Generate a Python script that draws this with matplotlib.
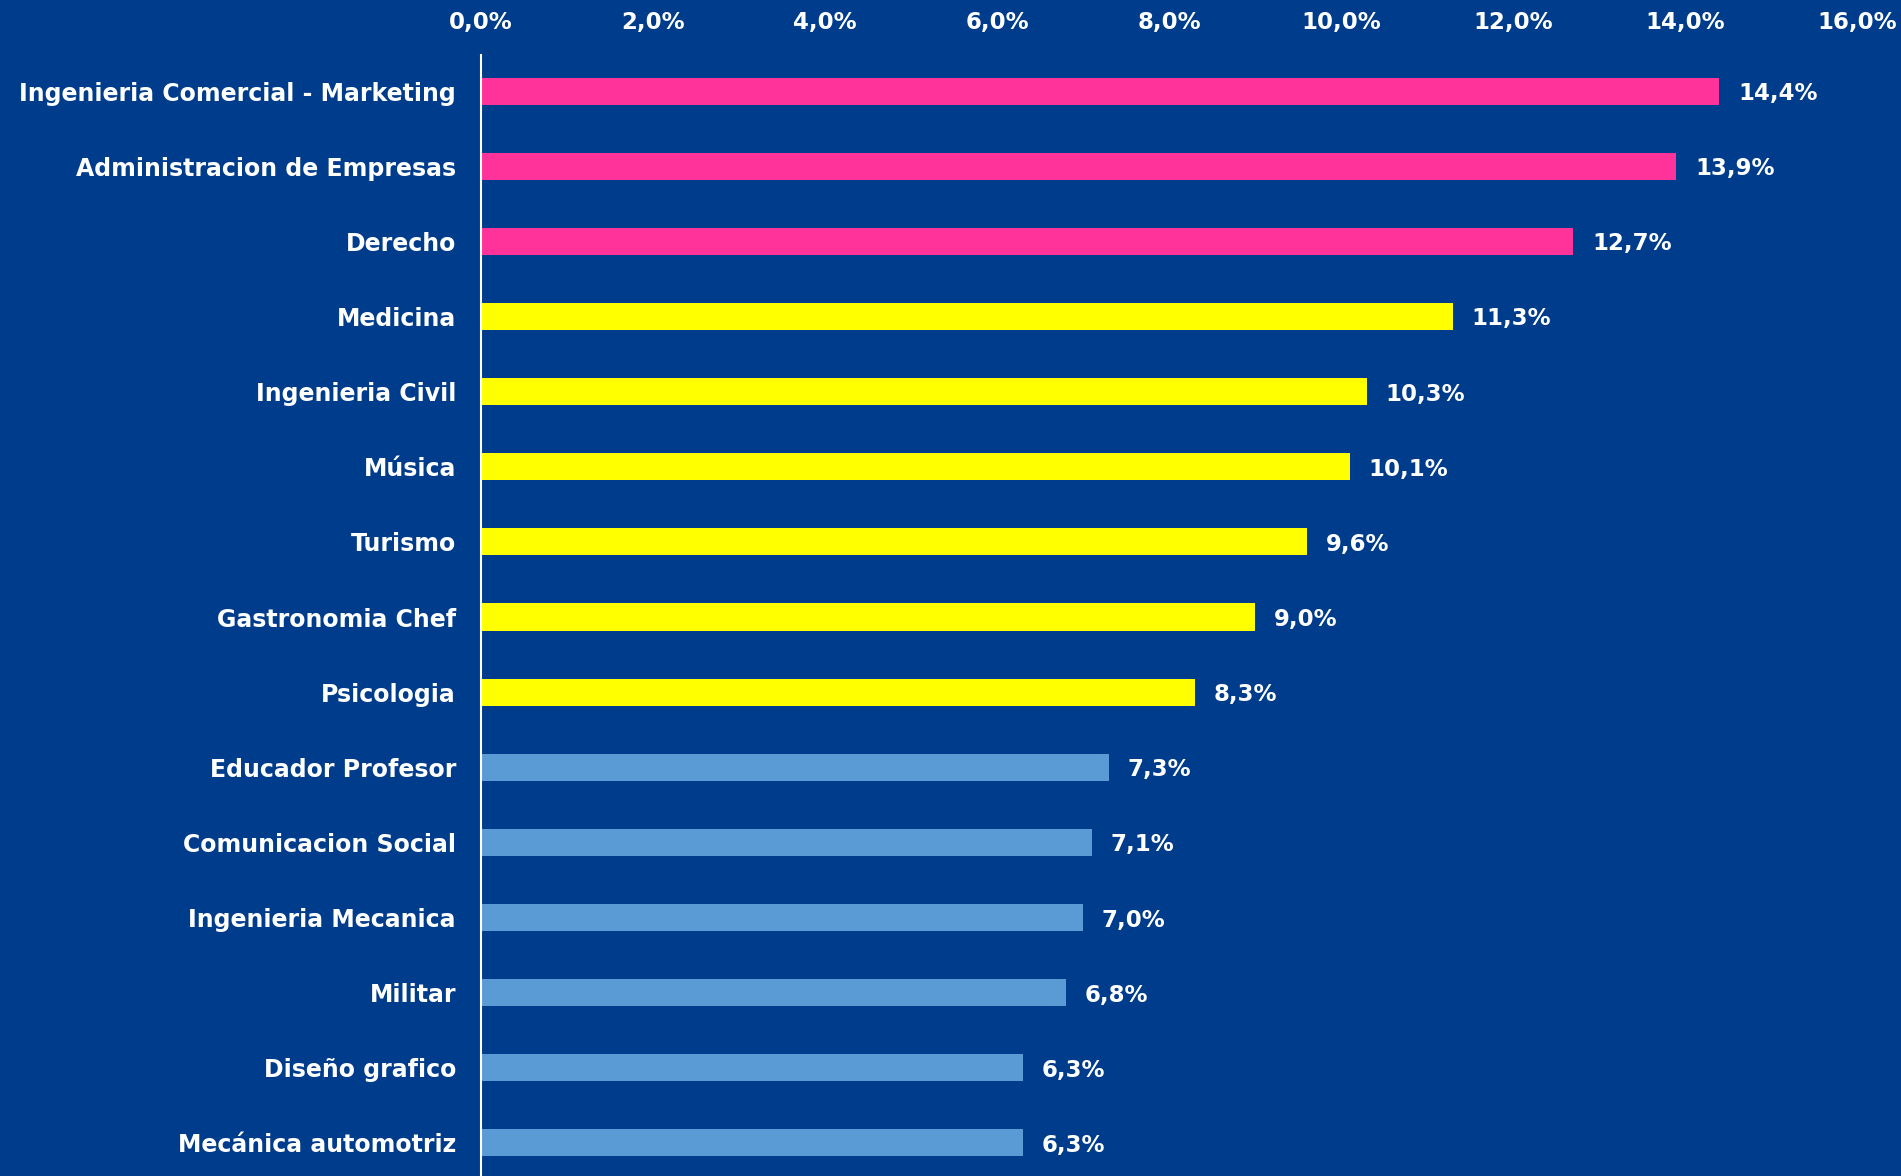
import matplotlib.pyplot as plt
from matplotlib.ticker import FuncFormatter

# careers and share of responses
carreras = ['Ingenieria Comercial - Marketing', 'Administracion de Empresas', 'Derecho',
            'Medicina', 'Ingenieria Civil', 'Música', 'Turismo', 'Gastronomia Chef',
            'Psicologia', 'Educador Profesor', 'Comunicacion Social', 'Ingenieria Mecanica',
            'Militar', 'Diseño grafico', 'Mecánica automotriz']
valores = [14.4, 13.9, 12.7, 11.3, 10.3, 10.1, 9.6, 9.0, 8.3, 7.3, 7.1, 7.0, 6.8, 6.3, 6.3]
grupos = ['top'] * 3 + ['mid'] * 6 + ['low'] * 6
x_ticks = [0, 2, 4, 6, 8, 10, 12, 14, 16]

FONDO = '#003C8C'
colores_grupo = {'top': '#FF3399', 'mid': '#FFFF00', 'low': '#5B9BD5'}

fig = plt.figure(figsize=(19.01, 11.76), dpi=100, facecolor=FONDO)
ax = fig.add_axes([481 / 1901, 0, (1857 - 481) / 1901, (1176 - 55) / 1176])
ax.set_facecolor(FONDO)

pos = list(range(len(carreras)))
ax.barh(pos, valores, height=0.36, color=[colores_grupo[g] for g in grupos])

# value labels right of each bar
for p, v in zip(pos, valores):
    ax.text(v + 0.22, p, f'{v:.1f}%'.replace('.', ','), color='white', fontsize=16.5,
            fontweight='bold', va='center_baseline', ha='left')

ax.set_xlim(0, 16)
ax.set_ylim(14.44, -0.48)
ax.set_xticks(x_ticks)
ax.xaxis.set_major_formatter(FuncFormatter(lambda v, _: f'{v:.1f}%'.replace('.', ',')))
ax.xaxis.tick_top()
ax.set_yticks(pos)
ax.set_yticklabels(carreras)
ax.tick_params(axis='both', length=0, colors='white')
ax.tick_params(axis='x', pad=15, labelsize=16.5)
ax.tick_params(axis='y', pad=18, labelsize=17)
for lab in ax.get_xticklabels() + ax.get_yticklabels():
    lab.set_fontweight('bold')

for s in ['top', 'right', 'bottom']:
    ax.spines[s].set_visible(False)
ax.spines['left'].set_color('white')
ax.spines['left'].set_linewidth(1.5)

fig.savefig('out.png', dpi=100, facecolor=FONDO)
